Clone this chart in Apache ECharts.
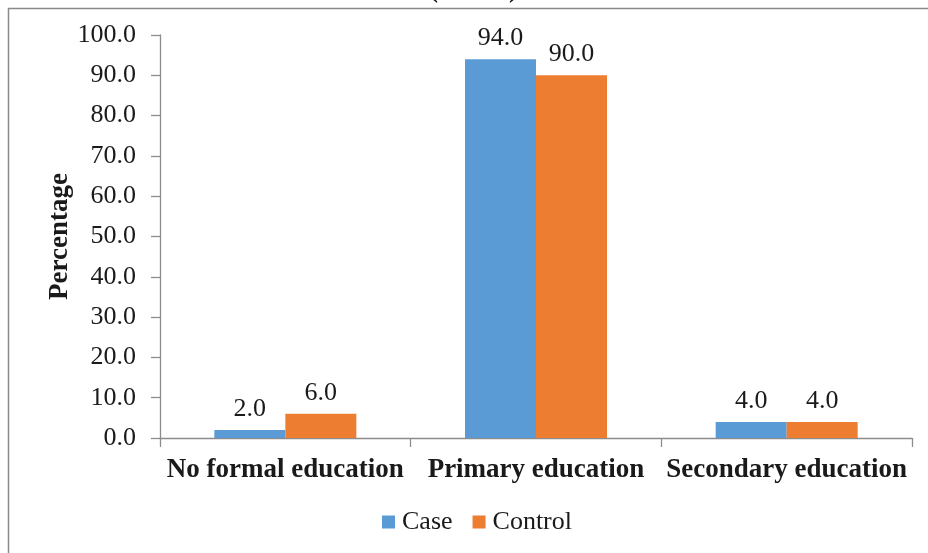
<!DOCTYPE html>
<html>
<head>
<meta charset="utf-8">
<script src="https://cdn.jsdelivr.net/npm/echarts@6/dist/echarts.min.js"></script>
<style>
  html, body { margin: 0; padding: 0; background: #ffffff; }
  #chart { width: 928px; height: 553px; }
</style>
</head>
<body>
<div id="chart"></div>
<script>
// Education level by group (percentage)
var categories = ['No formal education', 'Primary education', 'Secondary education'];
var caseValues = [2.0, 94.0, 4.0];
var controlValues = [6.0, 90.0, 4.0];
var seriesNames = ['Case', 'Control'];
var titleText = '(n=100)';
var yAxisTitle = 'Percentage';

var FONT = '"Liberation Serif", "Times New Roman", serif';
var AXIS_COLOR = '#8c8c8c';

var chart = echarts.init(document.getElementById('chart'), null, { renderer: 'canvas' });

function barSeries(name, data, color) {
  return {
    name: name,
    type: 'bar',
    data: data,
    barWidth: 71,
    barGap: '0%',
    itemStyle: { color: color },
    label: {
      show: true,
      position: 'top',
      distance: 8,
      formatter: function (p) { return p.value.toFixed(1); },
      fontFamily: FONT,
      fontSize: 26,
      color: '#1a1a1a'
    }
  };
}

chart.setOption({
  animation: false,
  backgroundColor: '#ffffff',
  grid: { left: 160, right: 16, top: 35, bottom: 115, containLabel: false },
  legend: {
    data: seriesNames,
    bottom: 18,
    left: 382,
    padding: 0,
    itemWidth: 13,
    itemHeight: 13,
    itemGap: 20,
    icon: 'rect',
    textStyle: { fontFamily: FONT, fontSize: 26, color: '#1a1a1a', padding: [0, 0, 0, 2] }
  },
  xAxis: {
    type: 'category',
    data: categories,
    axisLine: { show: true, lineStyle: { color: AXIS_COLOR, width: 1.3 } },
    axisTick: { show: true, length: 9, interval: 0, alignWithLabel: false, lineStyle: { color: AXIS_COLOR, width: 1.3 } },
    axisLabel: {
      interval: 0,
      margin: 19,
      fontFamily: FONT,
      fontSize: 27,
      fontWeight: 'bold',
      color: '#1a1a1a'
    },
    splitLine: { show: false }
  },
  yAxis: {
    type: 'value',
    min: 0,
    max: 100,
    interval: 10,
    name: yAxisTitle,
    nameLocation: 'middle',
    nameRotate: 90,
    nameGap: 86,
    nameMoveOverlap: false,
    nameTextStyle: { fontFamily: FONT, fontSize: 27, fontWeight: 'bold', color: '#1a1a1a' },
    axisLine: { show: true, lineStyle: { color: AXIS_COLOR, width: 1.3 } },
    axisTick: { show: true, length: 9, lineStyle: { color: AXIS_COLOR, width: 1.3 } },
    axisLabel: {
      margin: 24,
      fontFamily: FONT,
      fontSize: 26,
      color: '#1a1a1a',
      formatter: function (v) { return v.toFixed(1); }
    },
    splitLine: { show: false }
  },
  series: [
    barSeries(seriesNames[0], caseValues, '#5b9bd5'),
    barSeries(seriesNames[1], controlValues, '#ed7d31')
  ],
  graphic: [
    {
      type: 'text',
      left: 474 - 45,
      top: -23,
      style: { text: titleText, font: 'bold 27px ' + FONT, fill: '#1a1a1a' }
    },
    {
      type: 'line',
      shape: { x1: 8, y1: 8.5, x2: 928, y2: 8.5 },
      style: { stroke: '#8a8a8a', lineWidth: 1.5 }
    },
    {
      type: 'line',
      shape: { x1: 8.5, y1: 8, x2: 8.5, y2: 553 },
      style: { stroke: '#8a8a8a', lineWidth: 1.5 }
    }
  ]
});
</script>
</body>
</html>
